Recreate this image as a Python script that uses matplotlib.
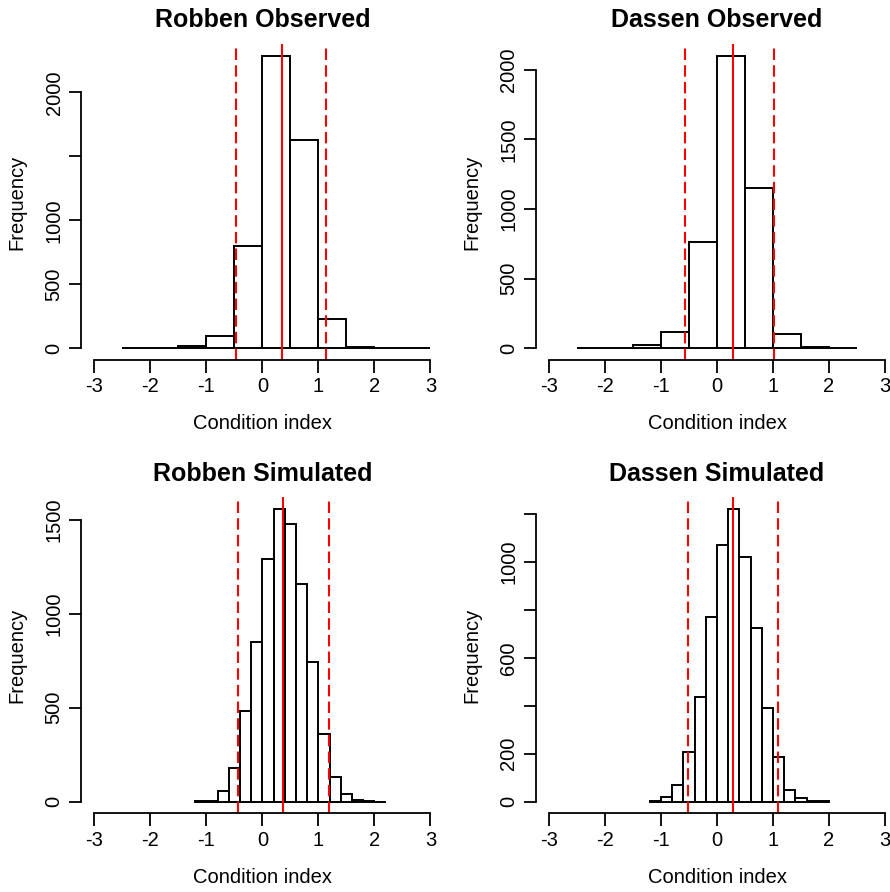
import numpy as np
import matplotlib
matplotlib.use('Agg')
import matplotlib.pyplot as plt

plt.rcParams['font.family'] = ['Liberation Sans', 'DejaVu Sans']
plt.rcParams['font.size'] = 14.5
plt.rcParams['axes.unicode_minus'] = False

# histogram bin edges (condition index)
edges_robben_obs = np.arange(-2.5, 3.01, 0.5)
edges_dassen_obs = np.arange(-2.5, 2.51, 0.5)
edges_robben_sim = np.arange(-1.2, 2.21, 0.2)
edges_dassen_sim = np.arange(-1.2, 2.01, 0.2)

# bin counts
counts_robben_obs = [5, 1, 20, 99, 802, 2287, 1628, 232, 13, 3, 1]
counts_dassen_obs = [2, 0, 24, 119, 765, 2100, 1147, 105, 7, 1]
counts_robben_sim = [2, 6, 59, 178, 480, 849, 1294, 1557, 1477, 1158, 741,
                     360, 131, 43, 9, 2, 1]
counts_dassen_sim = [3, 18, 68, 207, 438, 771, 1073, 1221, 1022, 726, 391,
                     185, 50, 14, 3, 1]

# mean and lower / upper limits drawn as red lines
lines_robben_obs = (0.357, -0.475, 1.143)
lines_dassen_obs = (0.29, -0.58, 1.02)
lines_robben_sim = (0.372, -0.43, 1.183)
lines_dassen_sim = (0.286, -0.518, 1.084)

titles = ['Robben Observed', 'Dassen Observed', 'Robben Simulated', 'Dassen Simulated']
yticks = [np.arange(0, 2001, 500), np.arange(0, 2001, 500),
          np.arange(0, 1501, 500), np.arange(0, 1201, 200)]
ylabels = [['0', '500', '1000', '', '2000'],
           ['0', '500', '1000', '1500', '2000'],
           ['0', '500', '1000', '1500'],
           ['0', '200', '', '600', '', '1000', '']]

panels = [
    (edges_robben_obs, counts_robben_obs, lines_robben_obs),
    (edges_dassen_obs, counts_dassen_obs, lines_dassen_obs),
    (edges_robben_sim, counts_robben_sim, lines_robben_sim),
    (edges_dassen_sim, counts_dassen_sim, lines_dassen_sim),
]

W, H = 890, 892
fig = plt.figure(figsize=(W / 100, H / 100), dpi=100)

# plot regions in pixels: (left, bottom-from-top)
ax_w, ax_h = 362.9, 316.0
origins = [(81.0, 360.0), (535.6, 360.0), (81.0, 813.4), (535.6, 813.4)]

for i, (edges, counts, (mu, lo, hi)) in enumerate(panels):
    left, bottom = origins[i]
    ax = fig.add_axes([left / W, (H - bottom) / H, ax_w / W, ax_h / H])
    widths = np.diff(edges)
    ax.bar(edges[:-1], counts, width=widths, align='edge',
           facecolor='white', edgecolor='black', linewidth=1.4)
    ax.axvline(mu, color='#ff0000', linewidth=1.5)
    for v in (lo, hi):
        ax.axvline(v, color='#ff0000', linewidth=1.5, dashes=(5.5, 2.5))

    m = max(counts)
    ax.set_xlim(-3.24, 3.24)
    ax.set_ylim(-0.04 * m, 1.04 * m)

    for s in ('top', 'right'):
        ax.spines[s].set_visible(False)
    ax.spines['left'].set_bounds(0, yticks[i][-1])
    ax.spines['bottom'].set_bounds(-3, 3)
    ax.spines['left'].set_linewidth(1.3)
    ax.spines['bottom'].set_linewidth(1.3)

    ax.set_xticks(np.arange(-3, 4, 1))
    ax.set_yticks(yticks[i])
    ax.set_yticklabels(ylabels[i], rotation=90, va='center')
    ax.tick_params(length=9, width=1.3, pad=3.5)

    ax.set_title(titles[i], fontsize=18, fontweight='bold', pad=12)
    ax.set_xlabel('Condition index', labelpad=13)
    ax.set_ylabel('Frequency', labelpad=13)

fig.savefig('out.png', dpi=100)
